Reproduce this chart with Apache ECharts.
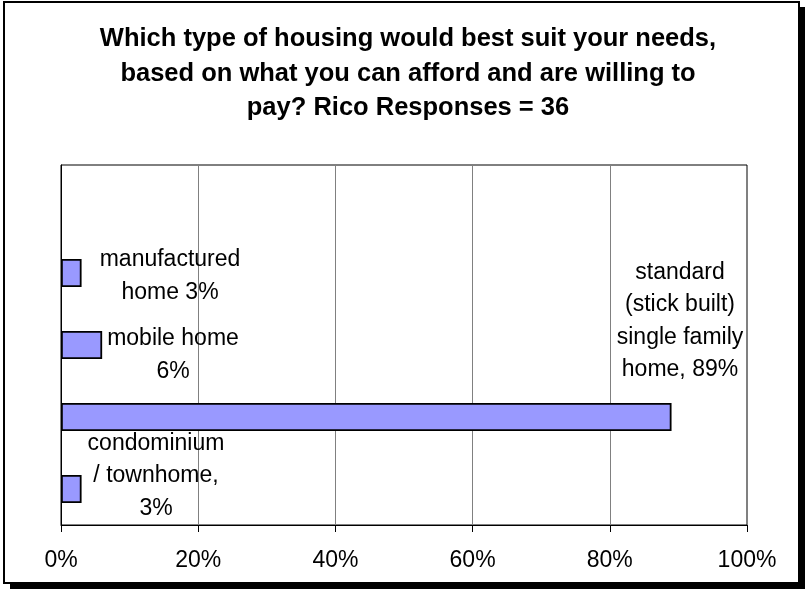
<!DOCTYPE html>
<html>
<head>
<meta charset="utf-8">
<title>Housing type preference</title>
<script src="https://cdn.jsdelivr.net/npm/echarts@6/dist/echarts.min.js"></script>
<style>
  html, body { margin: 0; padding: 0; background: #fff; }
  #chart { width: 805px; height: 589px; }
</style>
</head>
<body>
<div id="chart"></div>
<script>
// Categories listed top to bottom; the first slot is an empty row above the bars.
const categories = ['', 'manufactured home', 'mobile home', 'standard (stick built) single family home', 'condominium / townhome'];
// Share of respondents, percent
const values = [null, 3, 6, 89, 3];
// Wording of each bar's label, split over lines, followed by the value
const labelNames = ['', 'manufactured\nhome ', 'mobile home\n', 'standard\n(stick built)\nsingle family\nhome, ', 'condominium\n/ townhome,\n'];
const tickValues = [0, 20, 40, 60, 80, 100];

// Label placement (centre of the text block) relative to each bar's top-left corner
const labelPos = [null, [109, 17], [112, 24], [619, -82], [95, 1]];

const FONT = '"Liberation Sans", Arial, sans-serif';

const chart = echarts.init(document.getElementById('chart'), null, { renderer: 'canvas' });

const seriesData = values.map((v, i) => {
  if (v == null) return { value: null };
  return {
    value: v,
    label: {
      show: true,
      position: labelPos[i],
      align: 'center',
      verticalAlign: 'middle',
      formatter: labelNames[i] + v + '%'
    }
  };
});

chart.setOption({
  backgroundColor: '#ffffff',
  animation: false,
  graphic: [
    { type: 'rect', z: -20, shape: { x: 10, y: 7, width: 795, height: 582 }, style: { fill: '#000' } },
    { type: 'rect', z: -19, shape: { x: 4, y: 2, width: 795, height: 581 }, style: { fill: '#fff', stroke: '#000', lineWidth: 2 } }
  ],
  title: {
    text: 'Which type of housing would best suit your needs,\nbased on what you can afford and are willing to\npay? Rico Responses = 36',
    left: 403,
    top: 17,
    textAlign: 'center',
    textStyle: {
      fontFamily: FONT,
      fontSize: 25.5,
      fontWeight: 'bold',
      lineHeight: 34.5,
      color: '#000'
    }
  },
  grid: {
    left: 61, right: 58, top: 165, bottom: 64,
    show: true, borderColor: '#000', borderWidth: 1, backgroundColor: 'transparent'
  },
  xAxis: {
    type: 'value',
    min: tickValues[0],
    max: tickValues[tickValues.length - 1],
    interval: 20,
    axisLine: { show: true, lineStyle: { color: '#000', width: 1 } },
    axisTick: { show: true, length: 7, lineStyle: { color: '#000' } },
    splitLine: { show: true, lineStyle: { color: '#808080', width: 1 } },
    axisLabel: {
      margin: 24,
      formatter: '{value}%',
      fontFamily: FONT,
      fontSize: 23,
      color: '#000'
    }
  },
  yAxis: {
    type: 'category',
    inverse: true,
    data: categories,
    axisLine: { show: true, lineStyle: { color: '#000', width: 1 } },
    axisTick: { show: false },
    axisLabel: { show: false },
    splitLine: { show: false }
  },
  series: [{
    type: 'bar',
    data: seriesData,
    barWidth: '39%',
    itemStyle: { color: '#9999FF', borderColor: '#000', borderWidth: 1.8 },
    label: {
      fontFamily: FONT,
      fontSize: 23,
      lineHeight: 32.5,
      color: '#000'
    }
  }]
});
</script>
</body>
</html>
